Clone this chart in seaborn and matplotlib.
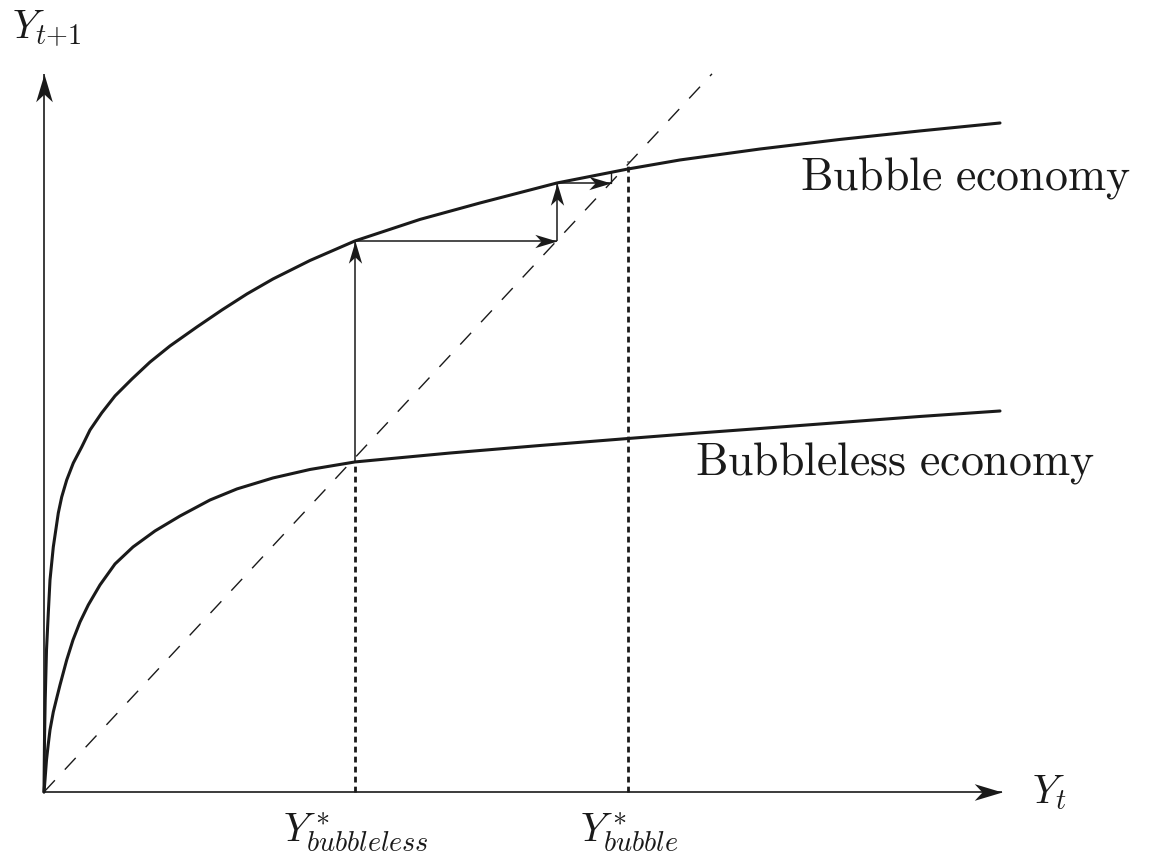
import numpy as np
import matplotlib
matplotlib.use("Agg")
import matplotlib.pyplot as plt
from matplotlib.path import Path
from matplotlib.markers import MarkerStyle
from matplotlib.transforms import Affine2D
import seaborn as sns

# Y_{t+1} as a function of Y_t for the two economies
yt_bubble = [0, 0.005, 0.012, 0.025, 0.043, 0.06, 0.093, 0.143, 0.177, 0.227, 0.293,
             0.377, 0.46, 0.577, 0.71, 0.88, 1.06, 1.26, 1.53, 1.78, 2.03, 2.29,
             2.66, 3.11, 3.76, 4.36, 5.13, 5.84, 6.36, 7.16, 7.96, 8.76, 9.56]
ynext_bubble = [0, 0.484, 0.856, 1.321, 1.665, 1.972, 2.279, 2.595, 2.744, 2.902, 3.060,
                3.209, 3.367, 3.526, 3.684, 3.842, 3.999, 4.149, 4.326, 4.484, 4.633, 4.772,
                4.944, 5.126, 5.326, 5.479, 5.665, 5.795, 5.879, 5.981, 6.070, 6.149, 6.223]

yt_bubbleless = [0, 0.01, 0.025, 0.043, 0.06, 0.093, 0.13, 0.16, 0.227, 0.29, 0.36,
                 0.443, 0.56, 0.71, 0.89, 1.11, 1.36, 1.66, 1.93, 2.29, 2.66, 3.11,
                 4.06, 4.96, 5.84, 6.56, 7.16, 7.96, 8.76, 9.56]
ynext_bubbleless = [0, 0.112, 0.298, 0.447, 0.577, 0.744, 0.884, 0.995, 1.228, 1.414, 1.581,
                    1.740, 1.926, 2.121, 2.279, 2.428, 2.567, 2.716, 2.819, 2.921, 3.000, 3.070,
                    3.153, 3.223, 3.288, 3.340, 3.381, 3.437, 3.493, 3.544]

# steady states
y_star_bubbleless = 3.11
y_star_bubble = 5.84

# convergence path: successive levels of Y on the way to the bubble steady state
path_levels = [3.070, 5.126, 5.665, 5.77]

# 45-degree line end and axis extents
diag_end = 6.68
x_axis_end = 9.58
y_axis_end = 6.68

sns.set_theme(style="white")
plt.rcParams["mathtext.fontset"] = "cm"

fig = plt.figure(figsize=(11.53, 8.64), dpi=100)
ax = fig.add_axes([0, 0, 1, 1])
ax.set_xlim(-0.44, 11.09)
ax.set_ylim(-0.670, 7.367)
ax.axis("off")

ink = "#1a1a1a"


def stealth(angle):
    verts = [(0, 0), (-1, 0.3), (-0.72, 0), (-1, -0.3), (0, 0)]
    codes = [Path.MOVETO, Path.LINETO, Path.LINETO, Path.LINETO, Path.CLOSEPOLY]
    return MarkerStyle(Path(verts, codes), transform=Affine2D().rotate_deg(angle))


def arrow(x0, y0, x1, y1, lw=1.0, size=22):
    ax.plot([x0, x1], [y0, y1], color=ink, lw=lw, solid_capstyle="butt", clip_on=False)
    ang = np.degrees(np.arctan2(y1 - y0, (x1 - x0) * 100 / 107.5))
    ax.plot([x1], [y1], marker=stealth(ang), ms=size, color=ink, mew=0, clip_on=False)


# axes with arrowheads
arrow(0, 0, x_axis_end, 0, lw=1.2, size=40)
arrow(0, 0, 0, y_axis_end, lw=1.2, size=40)

# 45-degree line
ax.plot([0, diag_end], [0, diag_end], color=ink, lw=1.0, linestyle=(0, (11.5, 10.5)))

# the two transition curves
sns.lineplot(x=yt_bubble, y=ynext_bubble, ax=ax, color=ink, lw=2.2, sort=False,
             estimator=None)
sns.lineplot(x=yt_bubbleless, y=ynext_bubbleless, ax=ax, color=ink, lw=2.2, sort=False,
             estimator=None)

# steady-state markers down to the horizontal axis
ax.plot([y_star_bubbleless, y_star_bubbleless], [0, path_levels[0]], color=ink,
        lw=2.0, linestyle=(0, (2.1, 1.5)))
ax.plot([y_star_bubble, y_star_bubble], [0, 5.87], color=ink,
        lw=2.0, linestyle=(0, (2.1, 1.5)))

# convergence staircase toward the bubble steady state
x = y_star_bubbleless
for i in range(1, len(path_levels)):
    lo, hi = path_levels[i - 1], path_levels[i]
    if i < len(path_levels) - 1:
        arrow(x, lo, x, hi, lw=1.1, size=32)
        arrow(x, hi, hi, hi, lw=1.1, size=32)
        x = hi
    else:
        ax.plot([x, x], [lo, hi], color=ink, lw=1.0)

# labels
fs_lab = 29
fs_name = 33
ax.text(-0.32, 7.014, r"$Y_{t{+}1}$", fontsize=fs_lab, color=ink, va="baseline", ha="left")
ax.text(9.88, -0.0995, r"$Y_t$", fontsize=fs_lab, color=ink, va="baseline", ha="left")
ax.text(2.39, -0.462, r"$Y^*_{bubbleless}$", fontsize=fs_lab, color=ink,
        va="baseline", ha="left")
ax.text(5.36, -0.462, r"$Y^*_{bubble}$", fontsize=fs_lab, color=ink,
        va="baseline", ha="left")
ax.text(7.56, 5.60, r"$\mathrm{Bubble\ economy}$", fontsize=fs_name, color=ink,
        va="baseline", ha="left")
ax.text(6.51, 2.949, r"$\mathrm{Bubbleless\ economy}$", fontsize=fs_name, color=ink,
        va="baseline", ha="left")

fig.savefig("out.png", dpi=100, facecolor="white")
